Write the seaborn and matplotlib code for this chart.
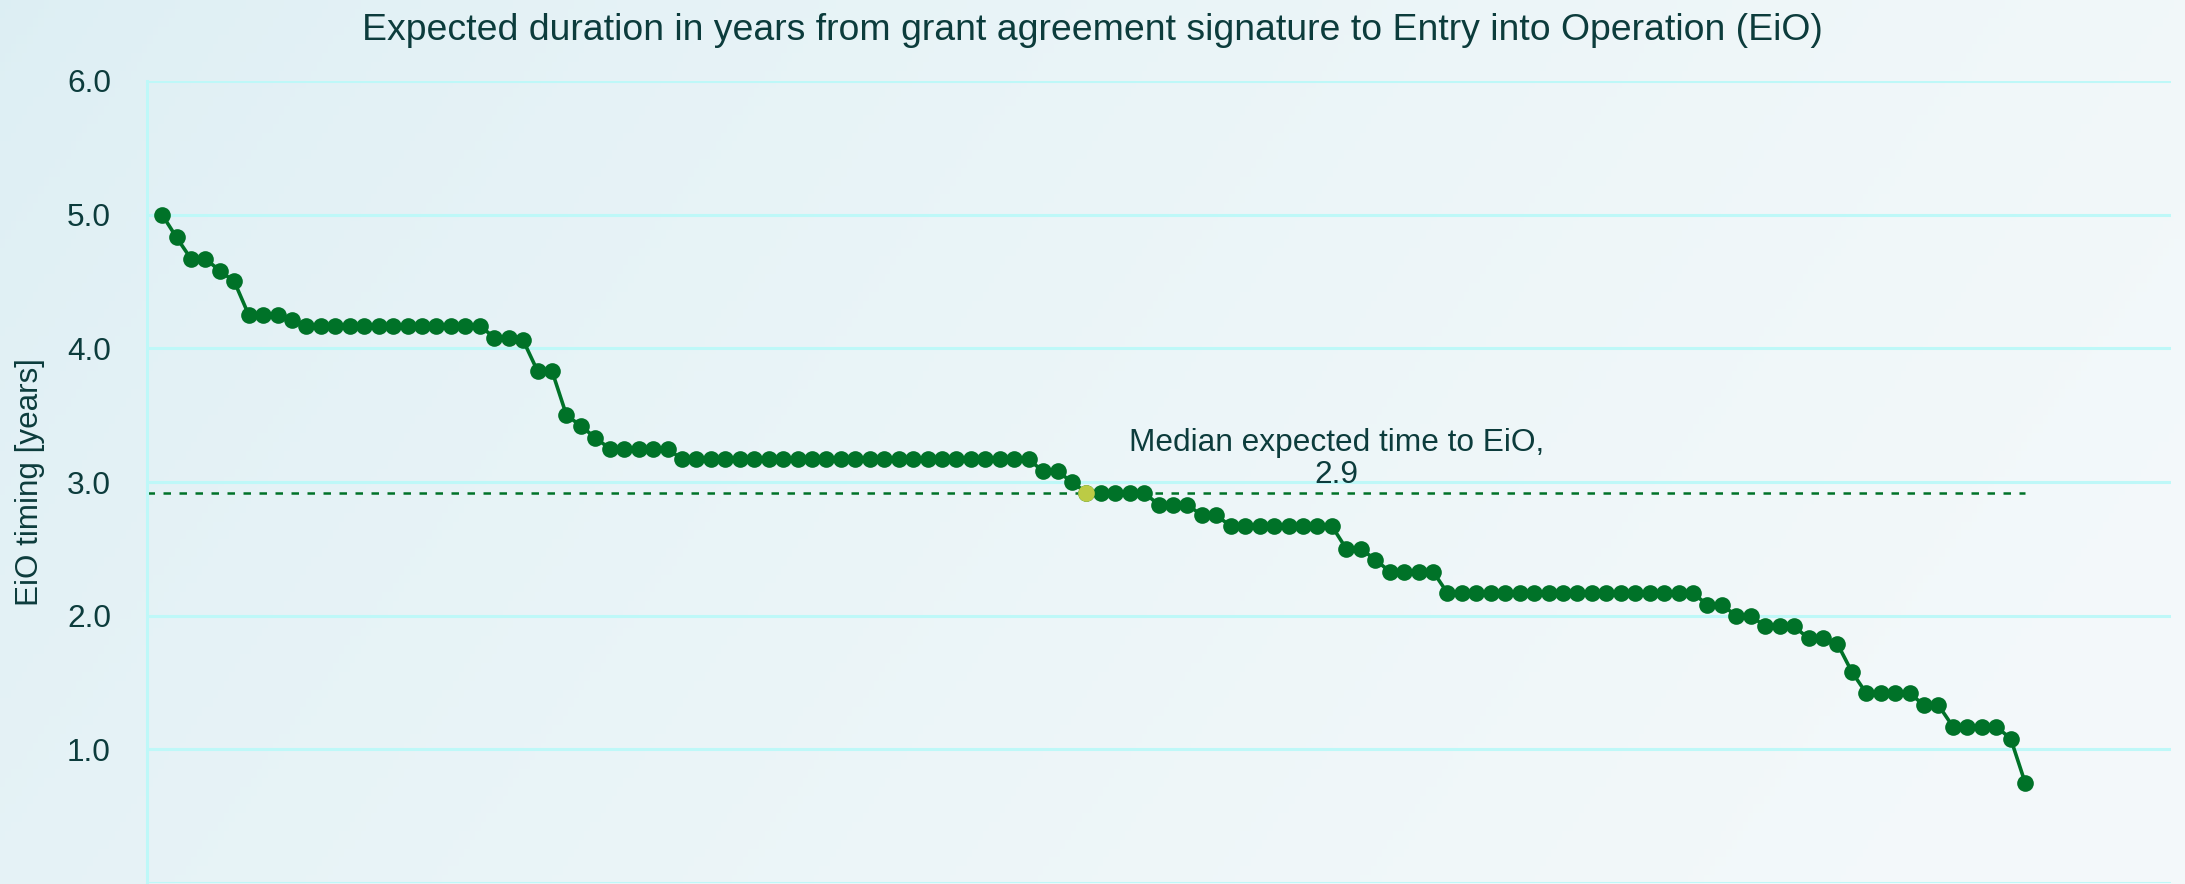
import numpy as np
import pandas as pd
import matplotlib
matplotlib.use('Agg')
import matplotlib.pyplot as plt
import seaborn as sns

TITLE = 'Expected duration in years from grant agreement signature to Entry into Operation (EiO)'
Y_LABEL = 'EiO timing [years]'
Y_TICKS = [0.0, 1.0, 2.0, 3.0, 4.0, 5.0, 6.0]

# expected years to EiO per project, sorted descending
EIO_YEARS = [
    5.00, 4.83, 4.67, 4.67, 4.58, 4.50, 4.25, 4.25, 4.25, 4.21,
    4.17, 4.17, 4.17, 4.17, 4.17, 4.17, 4.17, 4.17, 4.17, 4.17,
    4.17, 4.17, 4.17, 4.08, 4.08, 4.06, 3.83, 3.83, 3.50, 3.42,
    3.33, 3.25, 3.25, 3.25, 3.25, 3.25, 3.17, 3.17, 3.17, 3.17,
    3.17, 3.17, 3.17, 3.17, 3.17, 3.17, 3.17, 3.17, 3.17, 3.17,
    3.17, 3.17, 3.17, 3.17, 3.17, 3.17, 3.17, 3.17, 3.17, 3.17,
    3.17, 3.08, 3.08, 3.00, 2.92, 2.92, 2.92, 2.92, 2.92, 2.83,
    2.83, 2.83, 2.75, 2.75, 2.67, 2.67, 2.67, 2.67, 2.67, 2.67,
    2.67, 2.67, 2.50, 2.50, 2.42, 2.33, 2.33, 2.33, 2.33, 2.17,
    2.17, 2.17, 2.17, 2.17, 2.17, 2.17, 2.17, 2.17, 2.17, 2.17,
    2.17, 2.17, 2.17, 2.17, 2.17, 2.17, 2.17, 2.08, 2.08, 2.00,
    2.00, 1.92, 1.92, 1.92, 1.83, 1.83, 1.79, 1.58, 1.42, 1.42,
    1.42, 1.42, 1.33, 1.33, 1.17, 1.17, 1.17, 1.17, 1.08, 0.75,
]
MEDIAN_POINT = 64  # project sitting on the median, drawn in lime

GREEN = '#007228'
LIME = '#BCCB45'
GRID = '#BEF8F8'
TEXT = '#0C3C3C'


def make_dataframe() -> pd.DataFrame:
    """Project rank vs expected EiO duration"""
    df = pd.DataFrame({'Project': np.arange(len(EIO_YEARS)), 'Years': EIO_YEARS})
    return df


def draw_background(fig) -> None:
    """Soft blue-to-white gradient behind the chart"""
    bg = fig.add_axes([0, 0, 1, 1], zorder=0)
    bg.axis('off')
    xx, yy = np.meshgrid(np.linspace(0, 1, 400), np.linspace(0, 1, 100))
    t = np.clip(0.85 * xx + 0.25 * yy, 0, 1) ** 0.7
    left = np.array([0.865, 0.935, 0.955])
    right = np.array([0.955, 0.975, 0.982])
    img = left[None, None, :] * (1 - t[..., None]) + right[None, None, :] * t[..., None]
    bg.imshow(img, aspect='auto', extent=[0, 1, 0, 1], origin='upper')


def main() -> None:
    df = make_dataframe()
    median = float(np.median(df['Years']))

    sns.set_style('white')
    plt.rcParams['font.family'] = ['Liberation Sans', 'DejaVu Sans']

    fig = plt.figure(figsize=(21.85, 8.84), dpi=100)
    draw_background(fig)

    ax = fig.add_axes([0.0673, 0.0011, 0.9263, 0.9073], zorder=1)
    ax.patch.set_alpha(0)

    ax.hlines(median, -1.04, df['Project'].iloc[-1], colors=GREEN,
              linestyles=(0, (3.0, 3.4)), linewidth=1.8, zorder=2)

    sns.lineplot(data=df, x='Project', y='Years', ax=ax, color=GREEN,
                 marker='o', markersize=12, markeredgewidth=0,
                 linewidth=2.6, zorder=3)
    sns.scatterplot(x=[df['Project'].iloc[MEDIAN_POINT]], y=[df['Years'].iloc[MEDIAN_POINT]],
                    ax=ax, color=LIME, s=144, linewidth=0, zorder=4)

    ax.text(81.3, median + 0.02, f'Median expected time to EiO,\n{median:.1f}',
            ha='center', va='bottom', fontsize=22.8, color=TEXT, linespacing=1.1)

    ax.set_xlim(-1.04, 139.1)
    ax.set_ylim(0, 6)
    ax.set_yticks(Y_TICKS)
    # the 0.0 label falls below the picture's lower edge in the original
    ax.set_yticklabels([''] + [f'{v:.1f}' for v in Y_TICKS[1:]])
    ax.set_xticks([])
    ax.set_xlabel('')
    ax.set_ylabel(Y_LABEL, fontsize=22.6, color=TEXT)
    ax.yaxis.set_label_coords(-0.0505, 0.5)
    ax.tick_params(axis='y', length=0, pad=26, labelsize=22.8, labelcolor=TEXT)

    ax.grid(axis='y', color=GRID, linewidth=2.2)
    ax.grid(axis='x', visible=False)
    for side in ['top', 'right', 'bottom']:
        ax.spines[side].set_visible(False)
    ax.spines['left'].set_color(GRID)
    ax.spines['left'].set_linewidth(2.2)

    fig.text(0.5, 1 - 30 / 884, TITLE, ha='center', va='center', fontsize=26.9, color=TEXT)

    fig.savefig('out.png', dpi=100)
    plt.close(fig)


if __name__ == '__main__':
    main()
